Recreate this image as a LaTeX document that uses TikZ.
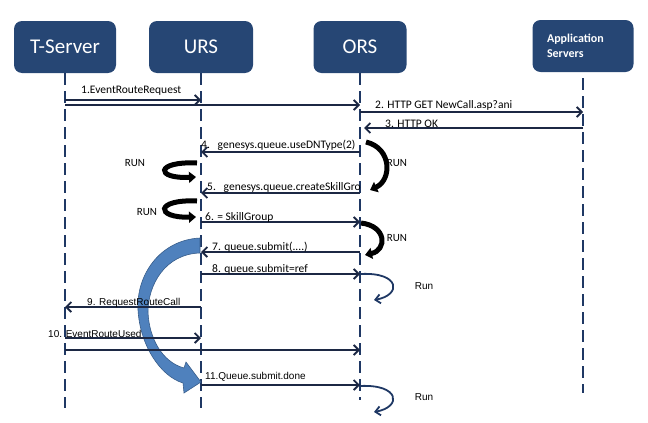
\documentclass[tikz,border=0pt]{standalone}
\usepackage{fontspec}
\setmainfont{Carlito}
\newfontfamily\arialf{Liberation Sans}
\usetikzlibrary{calc}
\usetikzlibrary{arrows.meta}
\definecolor{boxblue}{RGB}{38,70,116}
\definecolor{lifeblue}{RGB}{31,56,100}
\definecolor{msgblue}{RGB}{28,40,68}
\definecolor{bigblue}{RGB}{79,129,189}
\definecolor{bigedge}{RGB}{56,93,138}
\tikzset{
  box/.style={fill=boxblue, rounded corners=8pt, text=white, minimum height=52pt, inner sep=0pt},
  life/.style={draw=lifeblue, line width=2.5pt, dash pattern=on 12pt off 6pt},
  msg/.style={draw=msgblue, line width=1.8pt, -{Straight Barb[length=5pt,width=10pt]}},
  lbl/.style={anchor=base west, inner sep=0pt, font=\fontsize{11.5}{11.5}\selectfont},
  albl/.style={anchor=base west, inner sep=0pt, font=\arialf\fontsize{10}{10}\selectfont},
  run/.style={draw=black, line width=5pt, -{Triangle[length=7pt,width=11pt]}},
  thinrun/.style={draw=lifeblue, line width=1.8pt, -{Straight Barb[length=5pt,width=9pt]}}
}
\begin{document}
\begin{tikzpicture}[x=1pt,y=-1pt]
\useasboundingbox (0,0) rectangle (648,423);

\node[box, minimum width=102pt, font=\fontsize{21}{21}\selectfont] (ts) at (65,47) {T-Server};
\node[box, minimum width=104pt, font=\fontsize{21}{21}\selectfont] (urs) at (201,47) {URS};
\node[box, minimum width=93pt, font=\fontsize{21}{21}\selectfont] (ors) at (360,47) {ORS};
\node[box, minimum width=101pt, text width=72pt, align=left, font=\bfseries\fontsize{12}{15}\selectfont] (app) at (583,46) {Application\\Servers};

\coordinate (bot) at (0,408);
\coordinate (ors_end) at (0,400);
\coordinate (app_top) at (583,78);
\coordinate (app_end) at (583,393);

\draw[life] (ts.south) -- (ts |- bot);
\draw[life] (urs.south) -- (urs |- bot);
\draw[life] (ors.south) -- (ors |- ors_end);
\draw[life] (app_top) -- (app_end);

% big blue arrow
\filldraw[fill=bigblue, draw=bigedge, line width=.6pt] (200,238) .. controls (160,240) and (136,275) .. (138,310) .. controls (140,345) and (160,376) .. (183,383) -- (184,393) -- (201,382) -- (186,362) -- (184,368) .. controls (162,362) and (149,338) .. (148,312) .. controls (148,285) and (165,254) .. (200,253) -- cycle;

\coordinate (m1) at (0,100);
\coordinate (m1b) at (0,105);
\coordinate (m2) at (0,112);
\coordinate (m3) at (0,128);
\coordinate (m4) at (0,152);
\coordinate (m5) at (0,193);
\coordinate (m6) at (0,222);
\coordinate (m7) at (0,252);
\coordinate (m8) at (0,274);
\coordinate (m9) at (0,307);
\coordinate (m10) at (0,338);
\coordinate (m10b) at (0,350);
\coordinate (m11) at (0,385);

\draw[msg] (ts |- m1) -- (urs |- m1);
\draw[msg] (ts |- m1b) -- (ors |- m1b);
\draw[msg] (ors |- m2) -- (app |- m2);
\draw[msg] (app |- m3) -- ($(ors |- m3)+(4,0)$);
\draw[msg] (ors |- m4) -- (urs |- m4);
\draw[msg] (ors |- m5) -- (urs |- m5);
\draw[msg] (urs |- m6) -- (ors |- m6);
\draw[msg] (ors |- m7) -- (urs |- m7);
\draw[msg] (urs |- m8) -- (ors |- m8);
\draw[msg] (urs |- m9) -- (ts |- m9);
\draw[msg] (ts |- m10) -- (urs |- m10);
\draw[msg] (ts |- m10b) -- (ors |- m10b);
\draw[msg] (urs |- m11) -- (ors |- m11);

\node[lbl] (l1) at (81,93) {1.EventRouteRequest};
\node[lbl] (l2) at (375,108.5) {2. HTTP GET NewCall.asp?ani};
\node[lbl] (l3) at (385,127.5) {3. HTTP OK};
\node[lbl] (l4) at (201,148) {4.\ \ \ genesys.queue.useDNType(2)};
\node[lbl] (l5) at (207,190) {5.\ \ \ genesys.queue.createSkillGro};
\node[lbl] (l6) at (205,220.5) {6. = SkillGroup};
\node[lbl] (l7) at (212,250) {7. queue.submit(....)};
\node[lbl] (l8) at (212,272.5) {8. queue.submit=ref};
\node[albl] (l9) at (87,305.5) {9. RequestRouteCall};
\node[albl] (l10) at (48,337) {10. EventRouteUsed};
\node[albl] (l11) at (205,379) {11.Queue.submit.done};

% RUN loops
\draw[run] (197,163) .. controls (155,161) and (155,179) .. (196,177);
\draw[run] (197,201) .. controls (155,199) and (155,218) .. (196,217);
\draw[run] (366,142) .. controls (392,148) and (392,180) .. (370,190);
\draw[run] (361,223) .. controls (387,226) and (387,250) .. (365,255);
\draw[thinrun] (361,274) .. controls (400,272) and (402,295) .. (374,300);
\draw[thinrun] (360,386) .. controls (400,384) and (402,407) .. (374,412);

\node[font=\fontsize{11}{11}\selectfont] (run1) at (135,163) {RUN};
\node[font=\fontsize{11}{11}\selectfont] (run2) at (147,212) {RUN};
\node[font=\fontsize{11}{11}\selectfont] (run3) at (397,163) {RUN};
\node[font=\fontsize{11}{11}\selectfont] (run4) at (397,238) {RUN};
\node[font=\arialf\fontsize{10}{10}\selectfont] (run5) at (424,286) {Run};
\node[font=\arialf\fontsize{10}{10}\selectfont] (run6) at (424,397) {Run};
\end{tikzpicture}
\end{document}
